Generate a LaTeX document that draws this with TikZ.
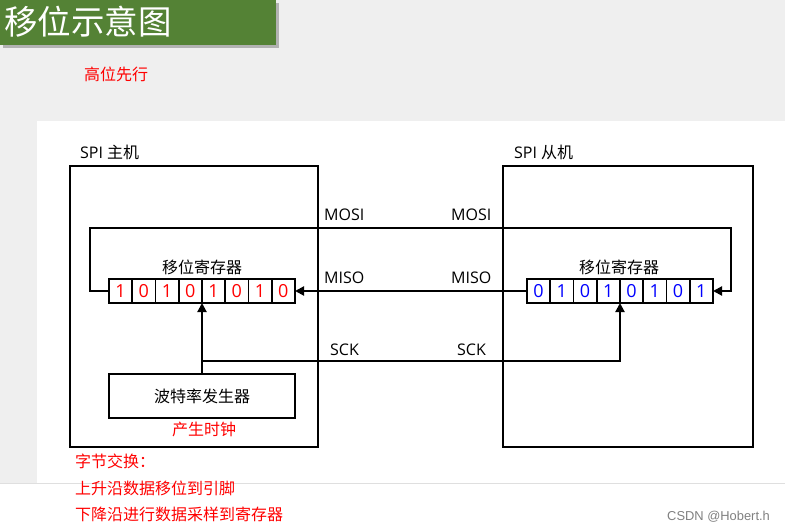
\documentclass[tikz,border=0pt]{standalone}
\usepackage{fontspec}
\setmainfont{Open Sans}
\newfontfamily\cjk{Noto Sans CJK SC}
\newfontfamily\csdnfont{Liberation Sans}
\usetikzlibrary{arrows.meta}
\definecolor{bggray}{HTML}{EFEFEF}
\definecolor{titlegreen}{HTML}{548235}
\definecolor{myred}{HTML}{FF0000}
\definecolor{myblue}{HTML}{0000FF}
\tikzset{
  cell/.style={draw=black, line width=1.6pt, minimum width=23.25pt, minimum height=24pt, inner sep=0pt, outer sep=0pt, anchor=west, font=\fontsize{18}{18}\selectfont},
  mcell/.style={cell, text=myred},
  scell/.style={cell, text=myblue},
  hostbox/.style={draw=black, line width=2pt},
  wire/.style={draw=black, line width=2pt},
  arr/.style={wire, -{Triangle[length=9pt,width=9pt]}},
  lbl/.style={font=\fontsize{16}{16}\selectfont, inner sep=0pt},
  redtxt/.style={font=\cjk\fontsize{16}{16}\selectfont, text=myred, inner sep=0pt, anchor=west},
}
\begin{document}
\begin{tikzpicture}[x=1pt,y=-1pt]
\useasboundingbox (0,0) rectangle (785,532);
% backgrounds
\fill[bggray] (0,0) rectangle (785,483);
\fill[white] (37,121) rectangle (785,483);
\draw[gray!25, line width=0.6pt] (0,483) -- (785,483);
% title
\fill[black!30] (3,3) rectangle (279,48);
\fill[titlegreen] (0,0) rectangle (276,45);
\node[anchor=west, text=white, font=\cjk\fontsize{33.5}{33.5}\selectfont, inner sep=0pt] (title) at (4,22) {移位示意图};
\node[redtxt] (hi) at (84,74) {高位先行};
% host boxes
\node[hostbox, minimum width=248pt, minimum height=281pt, anchor=north west, inner sep=0pt] (master) at (69,165) {};
\node[hostbox, minimum width=250pt, minimum height=281pt, anchor=north west, inner sep=0pt] (slave) at (502,165) {};
\node[lbl, anchor=west] (mlbl) at (80,152) {SPI {\cjk 主机}};
\node[lbl, anchor=west] (slbl) at (514,152) {SPI {\cjk 从机}};
% master register
\node[mcell] (m1) at (109,291) {1};
\node[mcell] (m2) at (m1.east) {0};
\node[mcell] (m3) at (m2.east) {1};
\node[mcell] (m4) at (m3.east) {0};
\node[mcell] (m5) at (m4.east) {1};
\node[mcell] (m6) at (m5.east) {0};
\node[mcell] (m7) at (m6.east) {1};
\node[mcell] (m8) at (m7.east) {0};
\node[lbl, font=\cjk\fontsize{16}{16}\selectfont] (mreg) at (202,267) {移位寄存器};
% slave register
\node[scell] (s1) at (527,291) {0};
\node[scell] (s2) at (s1.east) {1};
\node[scell] (s3) at (s2.east) {0};
\node[scell] (s4) at (s3.east) {1};
\node[scell] (s5) at (s4.east) {0};
\node[scell] (s6) at (s5.east) {1};
\node[scell] (s7) at (s6.east) {0};
\node[scell] (s8) at (s7.east) {1};
\node[lbl, font=\cjk\fontsize{16}{16}\selectfont] (sreg) at (619,267) {移位寄存器};
% baud generator
\node[draw=black, line width=2pt, minimum width=186pt, minimum height=44pt, inner sep=0pt, outer sep=0pt, font=\cjk\fontsize{16}{16}\selectfont] (baud) at (202,396) {波特率发生器};
\node[redtxt, anchor=center] (clk) at (204,429) {产生时钟};
% wires
\coordinate (mosiL) at (90,228);
\coordinate (mosiR) at (731,228);
\draw[arr] (m1.west) -| (mosiL) -- (mosiR) |- (s8.east);
\draw[arr] (s1.west) -- (m8.east);
\draw[arr] (baud.north) -- (baud.north |- m4.south east);
\coordinate (sckL) at (202,361);
\draw[arr] (sckL) -| (s4.south east);
% signal labels
\node[lbl, anchor=west] (mosi1) at (324,215) {MOSI};
\node[lbl, anchor=west] (mosi2) at (451,215) {MOSI};
\node[lbl, anchor=west] (miso1) at (324,278) {MISO};
\node[lbl, anchor=west] (miso2) at (451,278) {MISO};
\node[lbl, anchor=west] (sck1) at (330,350) {SCK};
\node[lbl, anchor=west] (sck2) at (457,350) {SCK};
% notes
\node[redtxt] (n1) at (75,461) {字节交换：};
\node[redtxt] (n2) at (75,488) {上升沿数据移位到引脚};
\node[redtxt] (n3) at (75,514) {下降沿进行数据采样到寄存器};
\node[anchor=west, text=gray, font=\csdnfont\fontsize{12.9}{13}\selectfont, inner sep=0pt] (csdn) at (667,517) {CSDN @Hobert.h};
\end{tikzpicture}
\end{document}
